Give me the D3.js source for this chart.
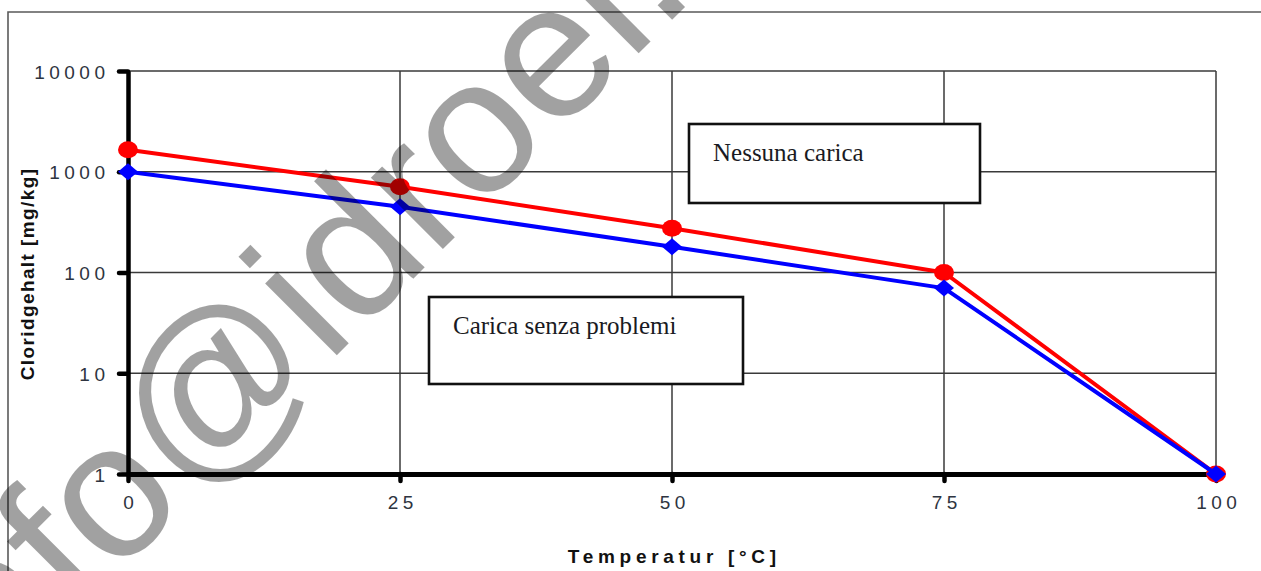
<!DOCTYPE html>
<html>
<head>
<meta charset="utf-8">
<script src="https://cdn.jsdelivr.net/npm/d3@7"></script>
<style>
  html, body { margin: 0; padding: 0; background: #fff; }
  svg { display: block; }
</style>
</head>
<body>
<svg id="chart" width="1261" height="571"></svg>
<script>
// ---- data ----
const temps = [0, 25, 50, 75, 100];
const nessunaCarica = [1650, 710, 275, 100, 1];      // red, circles
const caricaSenzaProblemi = [1000, 450, 180, 70, 1]; // blue, diamonds
const xTicks = [0, 25, 50, 75, 100];
const yTicks = [1, 10, 100, 1000, 10000];
const xLabel = "Temperatur [°C]";
const yLabel = "Cloridgehalt [mg/kg]";
const boxLabels = ["Nessuna carica", "Carica senza problemi"];
const watermark = "info@idroel.it";

const svg = d3.select("#chart");
const W = 1261, H = 571;
const plot = { left: 128, right: 1216, top: 71, bottom: 474 };

const x = d3.scaleLinear().domain([0, 100]).range([plot.left, plot.right]);
const y = d3.scaleLog().domain([1, 10000]).range([plot.bottom, plot.top]);

// outer frame
svg.append("path")
  .attr("d", `M${W},12 H8 V${H}`)
  .attr("fill", "none").attr("stroke", "#5a5a5a").attr("stroke-width", 1.6);

// grid
const grid = svg.append("g");
grid.selectAll("line.h").data(yTicks).join("line")
  .attr("x1", plot.left).attr("x2", plot.right)
  .attr("y1", d => y(d)).attr("y2", d => y(d))
  .attr("stroke", "#3a3a3a").attr("stroke-width", 1.5);
grid.selectAll("line.v").data(xTicks).join("line")
  .attr("x1", d => x(d)).attr("x2", d => x(d))
  .attr("y1", plot.top).attr("y2", plot.bottom)
  .attr("stroke", "#3a3a3a").attr("stroke-width", 1.5);

// axes
const tickFont = "'Liberation Sans', Arial, sans-serif";
const ls = 4.5;
const yAxis = d3.axisLeft(y).tickValues(yTicks).tickFormat(d3.format("d")).tickSize(9).tickSizeOuter(0).tickPadding(14);
const gy = svg.append("g").attr("transform", `translate(${plot.left},0)`).call(yAxis);
gy.select(".domain").attr("stroke", "#000").attr("stroke-width", 4.5);
gy.selectAll(".tick line").attr("stroke", "#000").attr("stroke-width", 4.5).attr("stroke-linecap", "round");
gy.selectAll(".tick text")
  .attr("font-family", tickFont).attr("font-size", 19).attr("fill", "#2e3440")
  .attr("letter-spacing", ls).attr("dx", ls).attr("dy", "0.38em");

const xAxis = d3.axisBottom(x).tickValues(xTicks).tickFormat(d3.format("d")).tickSize(7).tickSizeOuter(0).tickPadding(15);
const gx = svg.append("g").attr("transform", `translate(0,${plot.bottom})`).call(xAxis);
gx.select(".domain").attr("stroke", "#000").attr("stroke-width", 5);
gx.selectAll(".tick line").attr("stroke", "#000").attr("stroke-width", 4.5).attr("stroke-linecap", "round");
gx.selectAll(".tick text")
  .attr("font-family", tickFont).attr("font-size", 19).attr("fill", "#2e3440")
  .attr("letter-spacing", ls).attr("dx", ls / 2);

// axis titles
svg.append("text")
  .attr("x", 672 + 2.3).attr("y", 563)
  .attr("text-anchor", "middle")
  .attr("font-family", tickFont).attr("font-weight", "bold").attr("font-size", 19)
  .attr("letter-spacing", 4.7).attr("fill", "#111")
  .text(xLabel);
svg.append("text")
  .attr("transform", `translate(34,${274}) rotate(-90)`)
  .attr("text-anchor", "middle")
  .attr("font-family", tickFont).attr("font-weight", "bold").attr("font-size", 19)
  .attr("letter-spacing", 1.4).attr("fill", "#111")
  .text(yLabel);

// text boxes
const boxes = [
  { x0: 689, y0: 124, x1: 980, y1: 203, tx: 713, ty: 161, t: boxLabels[0] },
  { x0: 429, y0: 297, x1: 743, y1: 384, tx: 453, ty: 334, t: boxLabels[1] }
];
const bg = svg.append("g");
boxes.forEach(b => {
  bg.append("rect").attr("x", b.x0).attr("y", b.y0)
    .attr("width", b.x1 - b.x0).attr("height", b.y1 - b.y0)
    .attr("fill", "#fff").attr("stroke", "#111").attr("stroke-width", 2.6);
  bg.append("text").attr("x", b.tx).attr("y", b.ty)
    .attr("font-family", "'Liberation Serif', 'Times New Roman', serif")
    .attr("font-size", 25).attr("fill", "#1a1a22").text(b.t);
});

// series
const series = [
  { values: nessunaCarica, color: "#ff0000", marker: "circle" },
  { values: caricaSenzaProblemi, color: "#0000ff", marker: "diamond" }
];
const line = d3.line().x(d => x(d.t)).y(d => y(d.v));
series.forEach(s => {
  const pts = temps.map((t, i) => ({ t, v: s.values[i] }));
  svg.append("path").datum(pts).attr("d", line)
    .attr("fill", "none").attr("stroke", s.color).attr("stroke-width", 4)
    .attr("stroke-linejoin", "round");
  if (s.marker === "circle") {
    svg.append("g").selectAll("ellipse").data(pts).join("ellipse")
      .attr("cx", d => x(d.t)).attr("cy", d => y(d.v))
      .attr("rx", 10).attr("ry", 8.5).attr("fill", s.color);
  } else {
    svg.append("g").selectAll("path").data(pts).join("path")
      .attr("d", d => {
        const cx = x(d.t), cy = y(d.v);
        return `M${cx - 10},${cy} L${cx},${cy - 8.5} L${cx + 10},${cy} L${cx},${cy + 8.5} Z`;
      })
      .attr("fill", s.color);
  }
});

// watermark
svg.append("text")
  .attr("transform", "translate(-29,721) rotate(-45)")
  .attr("font-family", tickFont).attr("font-size", 192)
  .attr("fill", "#000").attr("fill-opacity", 0.37)
  .text(watermark);
</script>
</body>
</html>
